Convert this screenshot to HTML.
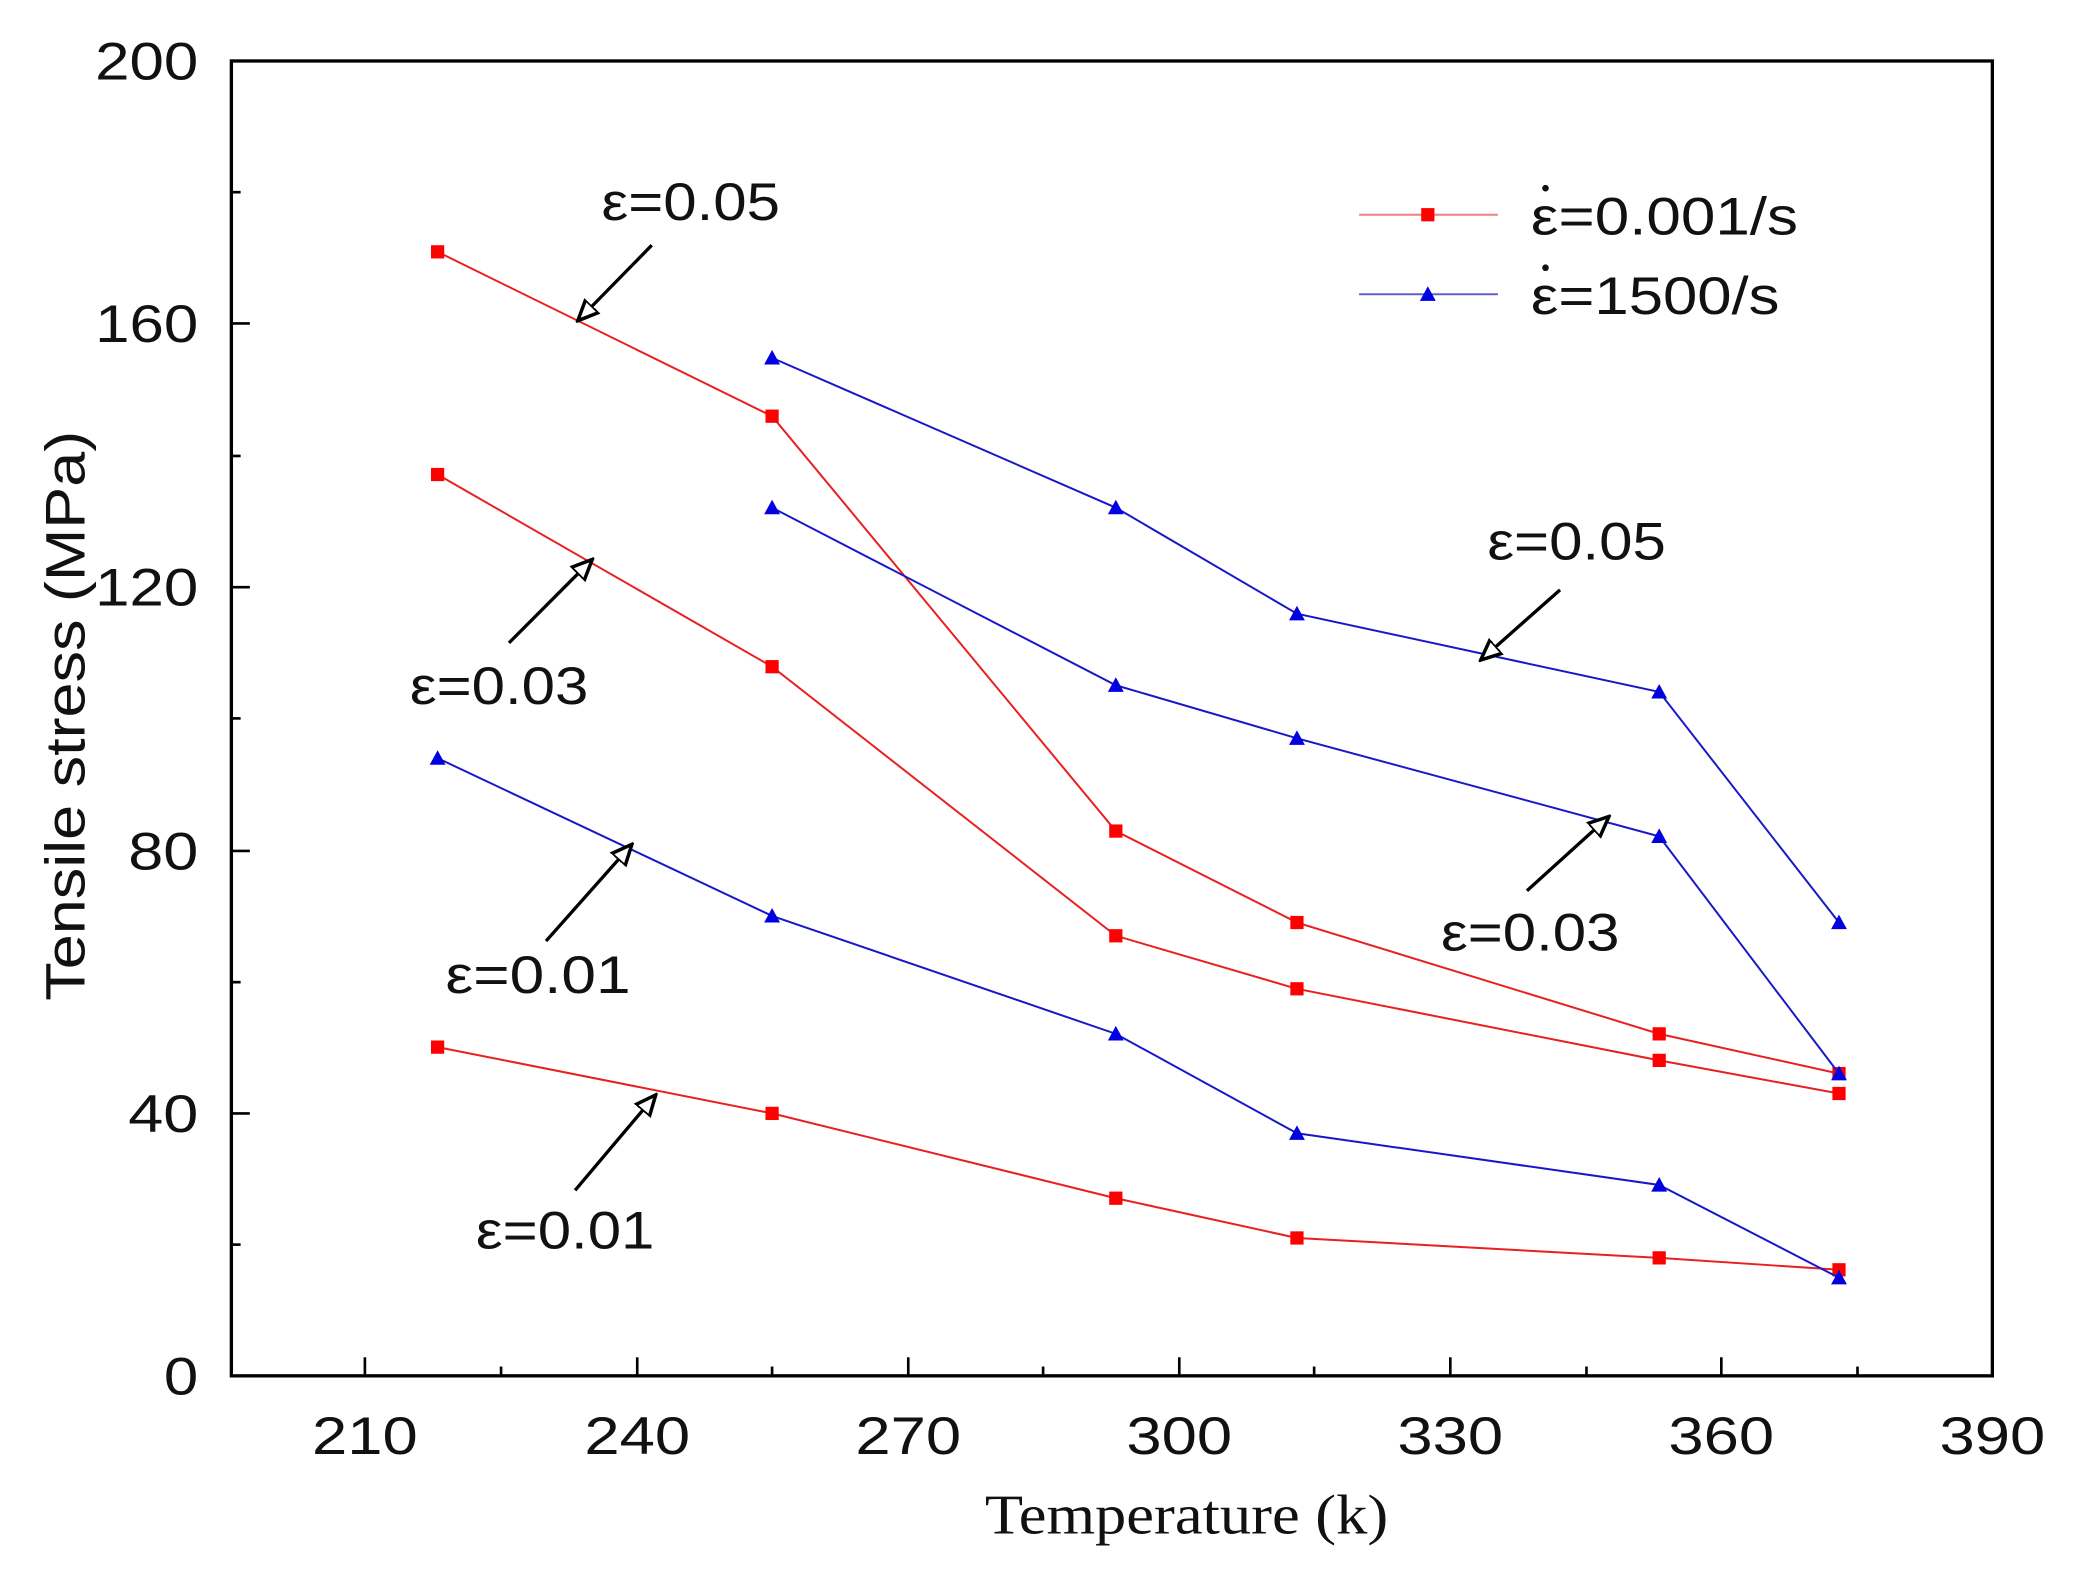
<!DOCTYPE html>
<html><head><meta charset="utf-8"><style>
html,body{margin:0;padding:0;background:#fff;}
svg{display:block;}
text{font-family:"Liberation Sans",sans-serif;fill:#111;}
</style></head><body>
<svg width="2073" height="1572" viewBox="0 0 1568 1186" preserveAspectRatio="none" xmlns="http://www.w3.org/2000/svg">
<defs>
<marker id="ah" viewBox="0 0 10 10" refX="9" refY="5" markerWidth="7" markerHeight="7" orient="auto">
<path d="M0,1 L9,5 L0,9 Z" fill="#fff" stroke="#000" stroke-width="1.5"/>
</marker>
</defs>
<rect x="175" y="46" width="1332" height="992" fill="none" stroke="#000" stroke-width="2.5"/>
<g stroke="#000" stroke-width="2">
<line x1="276" y1="1038" x2="276" y2="1024"/><line x1="379" y1="1038" x2="379" y2="1031"/>
<line x1="482" y1="1038" x2="482" y2="1024"/><line x1="584" y1="1038" x2="584" y2="1031"/>
<line x1="687" y1="1038" x2="687" y2="1024"/><line x1="789" y1="1038" x2="789" y2="1031"/>
<line x1="892" y1="1038" x2="892" y2="1024"/><line x1="994" y1="1038" x2="994" y2="1031"/>
<line x1="1097" y1="1038" x2="1097" y2="1024"/><line x1="1200" y1="1038" x2="1200" y2="1031"/>
<line x1="1302" y1="1038" x2="1302" y2="1024"/><line x1="1405" y1="1038" x2="1405" y2="1031"/>
<line x1="175" y1="939" x2="182" y2="939"/><line x1="175" y1="840" x2="189" y2="840"/>
<line x1="175" y1="741" x2="182" y2="741"/><line x1="175" y1="642" x2="189" y2="642"/>
<line x1="175" y1="542" x2="182" y2="542"/><line x1="175" y1="443" x2="189" y2="443"/>
<line x1="175" y1="344" x2="182" y2="344"/><line x1="175" y1="244" x2="189" y2="244"/>
<line x1="175" y1="145" x2="182" y2="145"/>
</g>
<g font-size="40" text-anchor="middle">
<text x="276" y="1097" textLength="80" lengthAdjust="spacingAndGlyphs">210</text>
<text x="482" y="1097" textLength="80" lengthAdjust="spacingAndGlyphs">240</text>
<text x="687" y="1097" textLength="80" lengthAdjust="spacingAndGlyphs">270</text>
<text x="892" y="1097" textLength="80" lengthAdjust="spacingAndGlyphs">300</text>
<text x="1097" y="1097" textLength="80" lengthAdjust="spacingAndGlyphs">330</text>
<text x="1302" y="1097" textLength="80" lengthAdjust="spacingAndGlyphs">360</text>
<text x="1507" y="1097" textLength="80" lengthAdjust="spacingAndGlyphs">390</text>
</g>
<g font-size="40" text-anchor="end">
<text x="150" y="1052" textLength="26" lengthAdjust="spacingAndGlyphs">0</text>
<text x="150" y="854" textLength="53" lengthAdjust="spacingAndGlyphs">40</text>
<text x="150" y="656" textLength="53" lengthAdjust="spacingAndGlyphs">80</text>
<text x="150" y="457" textLength="78" lengthAdjust="spacingAndGlyphs">120</text>
<text x="150" y="258" textLength="78" lengthAdjust="spacingAndGlyphs">160</text>
<text x="150" y="60" textLength="78" lengthAdjust="spacingAndGlyphs">200</text>
</g>
<text x="745" y="1157" font-size="42" textLength="305" lengthAdjust="spacingAndGlyphs" style="font-family:'Liberation Serif',serif">Temperature (k)</text>
<text transform="translate(64,755) rotate(-90)" font-size="42" textLength="430" lengthAdjust="spacingAndGlyphs">Tensile stress (MPa)</text>

<g stroke="#e82020" stroke-width="1.5" fill="none">
<polyline points="331,190 584,314 844,627 981,696 1255,780 1391,810"/>
<polyline points="331,358 584,503 844,706 981,746 1255,800 1391,825"/>
<polyline points="331,790 584,840 844,904 981,934 1255,949 1391,958"/>
</g>
<g fill="#f00">
<rect x="326" y="185" width="10" height="10"/><rect x="579" y="309" width="10" height="10"/><rect x="839" y="622" width="10" height="10"/><rect x="976" y="691" width="10" height="10"/><rect x="1250" y="775" width="10" height="10"/><rect x="1386" y="805" width="10" height="10"/>
<rect x="326" y="353" width="10" height="10"/><rect x="579" y="498" width="10" height="10"/><rect x="839" y="701" width="10" height="10"/><rect x="976" y="741" width="10" height="10"/><rect x="1250" y="795" width="10" height="10"/><rect x="1386" y="820" width="10" height="10"/>
<rect x="326" y="785" width="10" height="10"/><rect x="579" y="835" width="10" height="10"/><rect x="839" y="899" width="10" height="10"/><rect x="976" y="929" width="10" height="10"/><rect x="1250" y="944" width="10" height="10"/><rect x="1386" y="953" width="10" height="10"/>
</g>
<g stroke="#1818c8" stroke-width="1.5" fill="none">
<polyline points="584,270 844,383 981,463 1255,522 1391,696"/>
<polyline points="584,383 844,517 981,557 1255,631 1391,810"/>
<polyline points="331,572 584,691 844,780 981,855 1255,894 1391,964"/>
</g>
<g fill="#0000e0">
<path d="M584,264 l-6,11 h12z M844,377 l-6,11 h12z M981,457 l-6,11 h12z M1255,516 l-6,11 h12z M1391,690 l-6,11 h12z"/>
<path d="M584,377 l-6,11 h12z M844,511 l-6,11 h12z M981,551 l-6,11 h12z M1255,625 l-6,11 h12z M1391,804 l-6,11 h12z"/>
<path d="M331,566 l-6,11 h12z M584,685 l-6,11 h12z M844,774 l-6,11 h12z M981,849 l-6,11 h12z M1255,888 l-6,11 h12z M1391,958 l-6,11 h12z"/>
</g>

<g stroke="#000" stroke-width="2.5" marker-end="url(#ah)">
<line x1="493" y1="185" x2="437" y2="242"/>
<line x1="385" y1="485" x2="448" y2="422"/>
<line x1="413" y1="710" x2="478" y2="637"/>
<line x1="435" y1="898" x2="496" y2="826"/>
<line x1="1180" y1="445" x2="1120" y2="498"/>
<line x1="1155" y1="672" x2="1217" y2="616"/>
</g>
<g font-size="40">
<text x="455" y="166" textLength="135" lengthAdjust="spacingAndGlyphs">ε=0.05</text>
<text x="310" y="531" textLength="135" lengthAdjust="spacingAndGlyphs">ε=0.03</text>
<text x="337" y="749" textLength="140" lengthAdjust="spacingAndGlyphs">ε=0.01</text>
<text x="360" y="942" textLength="135" lengthAdjust="spacingAndGlyphs">ε=0.01</text>
<text x="1125" y="422" textLength="135" lengthAdjust="spacingAndGlyphs">ε=0.05</text>
<text x="1090" y="717" textLength="135" lengthAdjust="spacingAndGlyphs">ε=0.03</text>
</g>

<line x1="1028" y1="162" x2="1133" y2="162" stroke="#f08080" stroke-width="1.5"/>
<rect x="1075" y="157" width="10" height="10" fill="#f00"/>
<line x1="1028" y1="222" x2="1133" y2="222" stroke="#6060d0" stroke-width="1.5"/>
<path d="M1080,216 l-6,11 h12z" fill="#0000e0"/>
<g font-size="40">
<text x="1158" y="177" textLength="202" lengthAdjust="spacingAndGlyphs">ε=0.001/s</text>
<text x="1158" y="237" textLength="188" lengthAdjust="spacingAndGlyphs">ε=1500/s</text>
</g>
<circle cx="1169" cy="142" r="2.5" fill="#111"/>
<circle cx="1169" cy="202" r="2.5" fill="#111"/>
</svg>
</body></html>
